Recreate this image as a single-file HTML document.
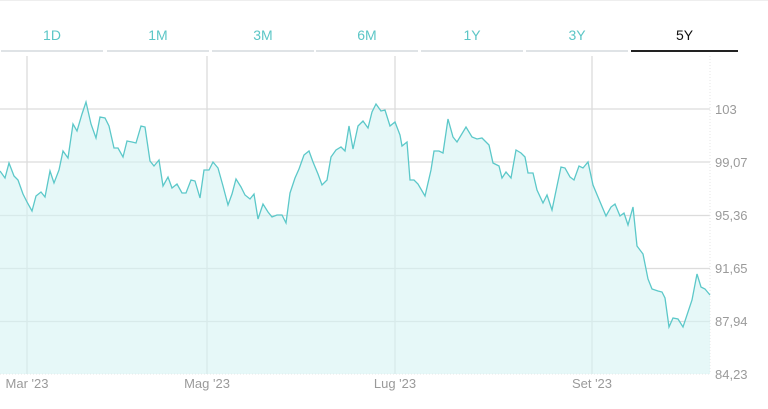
<!DOCTYPE html>
<html><head><meta charset="utf-8"><style>
body{margin:0;background:#fff;width:768px;height:409px;overflow:hidden;font-family:"Liberation Sans",sans-serif}
.tab{position:absolute;top:24px;height:26px;border-bottom:2px solid #dfe3e6;text-align:center;font-size:14px;color:#5cc6c6;line-height:22px}
.tab.act{color:#111;border-bottom-color:#222}
</style></head><body>
<div style="position:absolute;left:0;top:0;width:768px;height:1px;background:#eee"></div>
<div class="tab" style="left:1px;width:102px">1D</div>
<div class="tab" style="left:107px;width:102px">1M</div>
<div class="tab" style="left:212px;width:102px">3M</div>
<div class="tab" style="left:316px;width:102px">6M</div>
<div class="tab" style="left:421px;width:102px">1Y</div>
<div class="tab" style="left:526px;width:102px">3Y</div>
<div class="tab act" style="left:631px;width:107px">5Y</div>
<svg width="768" height="409" style="position:absolute;left:0;top:0">
<g stroke="#dcdcdc" stroke-width="1.3">
<line x1="0" y1="109" x2="710" y2="109"/><line x1="0" y1="162" x2="710" y2="162"/>
<line x1="0" y1="215.5" x2="710" y2="215.5"/><line x1="0" y1="268.5" x2="710" y2="268.5"/>
<line x1="0" y1="321.5" x2="710" y2="321.5"/>
<line x1="27" y1="56" x2="27" y2="374"/><line x1="207" y1="56" x2="207" y2="374"/>
<line x1="395" y1="56" x2="395" y2="374"/><line x1="592" y1="56" x2="592" y2="374"/>
</g>
<line x1="710" y1="56" x2="710" y2="374" stroke="#e6e6e6" stroke-dasharray="1,2"/>
<line x1="0" y1="374" x2="710" y2="374" stroke="#e6e6e6" stroke-dasharray="1,2"/>
<polygon fill="#d5f3f4" fill-opacity="0.6" points="0,374 0,171 5,178 9,163 14,176 18,180 23,194 27,202 32,211 36,196 41,192 45,197 50,171 54,183 59,170 63,151 68,158 73,124 77,131 82,114 86,102 91,124 96,138 100,117 105,118 109,126 114,148 118,148 123,157 127,141 132,142 136,143 141,126 145,127 150,161 154,166 159,160 163,186 168,177 172,188 177,184 182,193 186,193 191,180 195,181 200,198 204,170 209,170 213,162 218,168 223,186 228,205 232,194 236,179 241,187 245,195 250,199 254,194 258,219 263,204 268,212 272,217 277,215 282,215 286,223 290,193 295,178 299,169 304,155 309,151 313,162 318,174 322,185 327,180 331,157 336,150 341,147 345,151 349,126 353,149 358,126 363,121 368,128 372,112 376,104 381,111 385,110 390,126 395,122 400,135 402,146 407,142 410,180 414,180 418,184 425,196 431,170 434,151 439,151 443,153 448,119 453,137 457,142 466,127 472,137 477,139 482,138 489,145 493,163 499,166 502,178 506,172 511,178 516,150 521,153 525,157 528,173 533,173 537,190 543,203 547,195 552,210 557,186 561,167 565,168 570,177 574,180 579,166 583,168 588,162 593,185 598,197 606,216 611,207 615,204 620,216 624,213 628,225 633,207 637,246 643,254 648,279 652,289 658,291 662,292 665,298 669,327 673,318 678,319 683,327 692,300 697,274 701,287 705,289 710,295 710,374"/>
<polyline fill="none" stroke="#5cc8c9" stroke-width="1.3" points="0,171 5,178 9,163 14,176 18,180 23,194 27,202 32,211 36,196 41,192 45,197 50,171 54,183 59,170 63,151 68,158 73,124 77,131 82,114 86,102 91,124 96,138 100,117 105,118 109,126 114,148 118,148 123,157 127,141 132,142 136,143 141,126 145,127 150,161 154,166 159,160 163,186 168,177 172,188 177,184 182,193 186,193 191,180 195,181 200,198 204,170 209,170 213,162 218,168 223,186 228,205 232,194 236,179 241,187 245,195 250,199 254,194 258,219 263,204 268,212 272,217 277,215 282,215 286,223 290,193 295,178 299,169 304,155 309,151 313,162 318,174 322,185 327,180 331,157 336,150 341,147 345,151 349,126 353,149 358,126 363,121 368,128 372,112 376,104 381,111 385,110 390,126 395,122 400,135 402,146 407,142 410,180 414,180 418,184 425,196 431,170 434,151 439,151 443,153 448,119 453,137 457,142 466,127 472,137 477,139 482,138 489,145 493,163 499,166 502,178 506,172 511,178 516,150 521,153 525,157 528,173 533,173 537,190 543,203 547,195 552,210 557,186 561,167 565,168 570,177 574,180 579,166 583,168 588,162 593,185 598,197 606,216 611,207 615,204 620,216 624,213 628,225 633,207 637,246 643,254 648,279 652,289 658,291 662,292 665,298 669,327 673,318 678,319 683,327 692,300 697,274 701,287 705,289 710,295"/>
<g fill="#9a9a9a" font-size="13" font-family="Liberation Sans, sans-serif">
<text x="715" y="114">103</text><text x="715" y="167">99,07</text><text x="715" y="220">95,36</text>
<text x="715" y="273">91,65</text><text x="715" y="326">87,94</text><text x="715" y="379">84,23</text>
<text x="27" y="388" text-anchor="middle">Mar '23</text><text x="207" y="388" text-anchor="middle">Mag '23</text>
<text x="395" y="388" text-anchor="middle">Lug '23</text><text x="592" y="388" text-anchor="middle">Set '23</text>
</g>
</svg>
</body></html>
